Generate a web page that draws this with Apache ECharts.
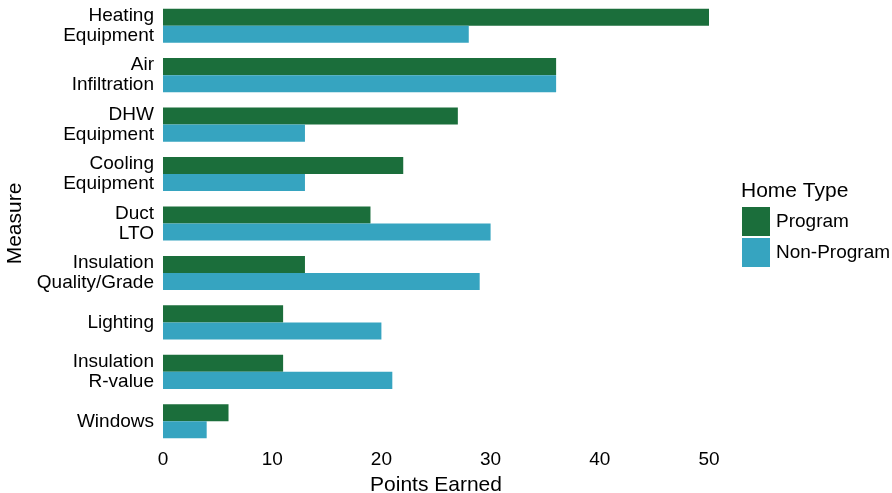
<!DOCTYPE html>
<html><head><meta charset="utf-8">
<script src="https://cdn.jsdelivr.net/npm/echarts@6/dist/echarts.min.js"></script>
<style>html,body{margin:0;padding:0;background:#fff}#c{width:892px;height:493px}</style>
</head><body><div id="c"></div>
<script>
const categories = ["Heating\nEquipment","Air\nInfiltration","DHW\nEquipment","Cooling\nEquipment","Duct\nLTO","Insulation\nQuality/Grade","Lighting","Insulation\nR-value","Windows"];
const programValues = [50,36,27,22,19,13,11,11,6];
const nonProgramValues = [28,36,13,13,30,29,20,21,4];
const xTicks = [0,10,20,30,40,50];
const seriesNames = ["Program","Non-Program"];
const colors = ["#1b6e3b","#36a4c0"];
const font = "Liberation Sans, Arial, sans-serif";

const chart = echarts.init(document.getElementById('c'), null, {renderer:'canvas'});
chart.setOption({
  animation:false,
  textStyle:{fontFamily:font},
  title:[{text:"Home Type", left:741, top:181, padding:[0,0,0,0], textStyle:{fontSize:21, fontWeight:'normal', color:'#000', fontFamily:font}}],
  legend:{
    orient:'vertical', left:742, top:207, padding:0, itemWidth:28, itemHeight:29, itemGap:2,
    icon:'rect', data:seriesNames,
    textStyle:{fontSize:19, color:'#000', fontFamily:font, padding:[0,0,0,1]}
  },
  grid:{left:163, right:183, top:1, bottom:47, containLabel:false, outerBoundsMode:'none'},
  xAxis:{
    type:'value', min:xTicks[0], max:xTicks[xTicks.length-1], interval:10,
    name:"Points Earned", nameLocation:'middle', nameGap:29,
    nameTextStyle:{fontSize:21, color:'#000', fontFamily:font},
    axisLine:{show:false}, axisTick:{show:false}, splitLine:{show:false},
    axisLabel:{fontSize:19, color:'#000', margin:4, fontFamily:font}
  },
  yAxis:{
    type:'category', data:categories, inverse:true,
    name:"Measure", nameLocation:'middle', nameGap:128, nameRotate:90,
    nameTextStyle:{fontSize:21, color:'#000', fontFamily:font},
    axisLine:{show:false}, axisTick:{show:false}, splitLine:{show:false},
    axisLabel:{fontSize:19, color:'#000', margin:9, lineHeight:20, align:'right', fontFamily:font, padding:[3,0,0,0]}
  },
  series:[
    {name:seriesNames[0], type:'bar', data:programValues, itemStyle:{color:colors[0]}, barGap:'0%', barCategoryGap:'31%'},
    {name:seriesNames[1], type:'bar', data:nonProgramValues, itemStyle:{color:colors[1]}, barGap:'0%', barCategoryGap:'31%'}
  ]
});
</script></body></html>
